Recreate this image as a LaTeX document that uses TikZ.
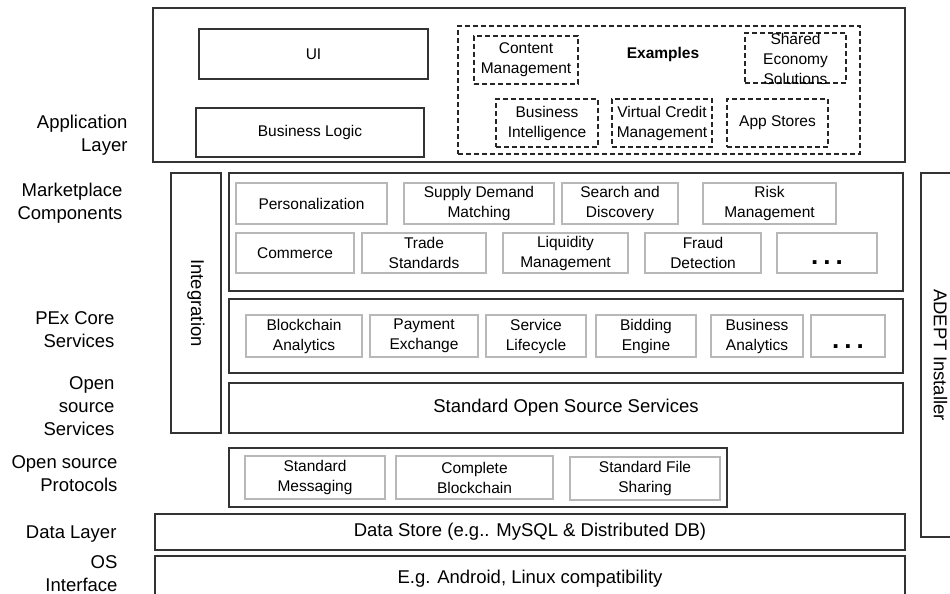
\documentclass[tikz,border=0pt]{standalone}
\usepackage{fontspec}
\setmainfont{Liberation Sans}
\newcommand\compfont{\fontsize{15.5}{20}\selectfont}
\newcommand\layerfont{\fontsize{18.5}{23}\selectfont}
\tikzset{
  sz/.style 2 args={minimum width=#1pt, minimum height=#2pt},
  layerbox/.style={draw=black!80, line width=1.3pt, inner sep=0pt, font=\layerfont},
  compbox/.style={draw=black!28, line width=1.3pt, inner sep=0pt, align=center, font=\compfont},
  examplebox/.style={draw=black!85, dash pattern=on 5pt off 3pt, line width=1.1pt, inner sep=0pt, align=center, font=\compfont},
  sidelabel/.style={anchor=east, align=right, font=\layerfont},
  dotstext/.style={anchor=base, font=\fontsize{26}{26}\selectfont\bfseries},
}
\begin{document}
\begin{tikzpicture}[x=1pt,y=-1pt]
            \clip (0,0) rectangle (950,594);

            \node[sidelabel] (lbapp) at (131,135) {Application\\Layer};
            \node[sidelabel] (lbmarket) at (126,203) {Marketplace\\Components};
            \node[sidelabel] (lbpex) at (118,330) {PEx Core\\Services};
            \node[sidelabel] (lbopen) at (118,406) {Open\\source\\Services};
            \node[sidelabel] (lbproto) at (121,474) {Open source\\Protocols};
            \node[sidelabel] (lbdata) at (120,534) {Data Layer};
            \node[sidelabel] (lbos) at (121,574) {OS\\Interface};

            \node[layerbox, sz={752}{154}] (app) at (529,85) {};
            \node[layerbox, sz={229}{50}] (ui) at (313.5,54) {\compfont UI};
            \node[layerbox, sz={228}{49}] (logic) at (310,132.5) {\compfont Business Logic};
            \node[examplebox, sz={402}{128}] (examplearea) at (659,90) {};
            \node[font=\compfont\bfseries] (examples) at (663,54) {Examples};
            \node[examplebox, sz={104}{48}] (content) at (526,60) {Content\\Management};
            \node[examplebox, sz={101}{50}] (shared) at (795.5,58) {};
            \node[align=center, font=\compfont, inner sep=0pt] (sharedtext) at ([yshift=-1pt]shared.center) {Shared\\Economy\\Solutions};
            \node[examplebox, sz={102}{48}] (intel) at (547,123) {Business\\Intelligence};
            \node[examplebox, sz={100}{48}] (credit) at (662,123) {Virtual Credit\\Management};
            \node[examplebox, sz={101}{48}] (appstores) at (777.5,123) {App Stores};

            \node[layerbox, sz={260}{50}, rotate=-90] (integration) at (196,303) {Integration};
            \node[layerbox, sz={364}{39}, rotate=-90] (adept) at (940.5,355) {ADEPT Installer};

            \node[layerbox, sz={674}{118}] (market) at (566,232) {};
            \node[compbox, sz={151}{41}] (personal) at (311.5,203.5) {Personalization};
            \node[compbox, sz={150}{41}] (supply) at (479,203.5) {Supply Demand\\Matching};
            \node[compbox, sz={116}{41}] (search) at (620,203.5) {Search and\\Discovery};
            \node[compbox, sz={133}{41}] (risk) at (769.5,203.5) {Risk\\Management};
            \node[compbox, sz={118}{40}] (commerce) at (295,253) {Commerce};
            \node[compbox, sz={124}{40}] (trade) at (424,253) {Trade\\Standards};
            \node[compbox, sz={125}{40}] (liquidity) at (565.5,253) {Liquidity\\Management};
            \node[compbox, sz={116}{40}] (fraud) at (703,253) {Fraud\\Detection};
            \node[compbox, sz={100}{40}] (moremarket) at (827,253) {};
            \node[dotstext] (dotsmarket) at (827,264) {.\hspace{5pt}.\hspace{5pt}.};

            \node[layerbox, sz={674}{74}] (pex) at (566,336) {};
            \node[compbox, sz={116}{42}] (chainana) at (304,336) {Blockchain\\Analytics};
            \node[compbox, sz={108}{42}] (payment) at (424,336) {Payment\\Exchange};
            \node[compbox, sz={100}{42}] (lifecycle) at (536,336) {Service\\Lifecycle};
            \node[compbox, sz={100}{42}] (bidding) at (646,336) {Bidding\\Engine};
            \node[compbox, sz={92}{42}] (busana) at (757,336) {Business\\Analytics};
            \node[compbox, sz={74}{42}] (morepex) at (848,336) {};
            \node[dotstext] (dotspex) at (848,348) {.\hspace{5pt}.\hspace{5pt}.};

            \node[layerbox, sz={674}{50}] (stdopen) at (566,408) {Standard Open Source Services};

            \node[layerbox, sz={498}{59}] (proto) at (478,477.5) {};
            \node[compbox, sz={140}{43}] (messaging) at (315,477.5) {Standard\\Messaging};
            \node[compbox, sz={157}{43}] (fullchain) at (474.5,477.5) {Complete\\Blockchain};
            \node[compbox, sz={150}{43}] (filesharing) at (645,478.5) {Standard File\\Sharing};

            \node[layerbox, sz={750}{36}] (datastore) at (530,532) {Data Store (e.g.. MySQL \& Distributed DB)};
            \node[layerbox, sz={750}{46}] (osif) at (530,579) {E.g. Android, Linux compatibility};
\end{tikzpicture}
\end{document}
